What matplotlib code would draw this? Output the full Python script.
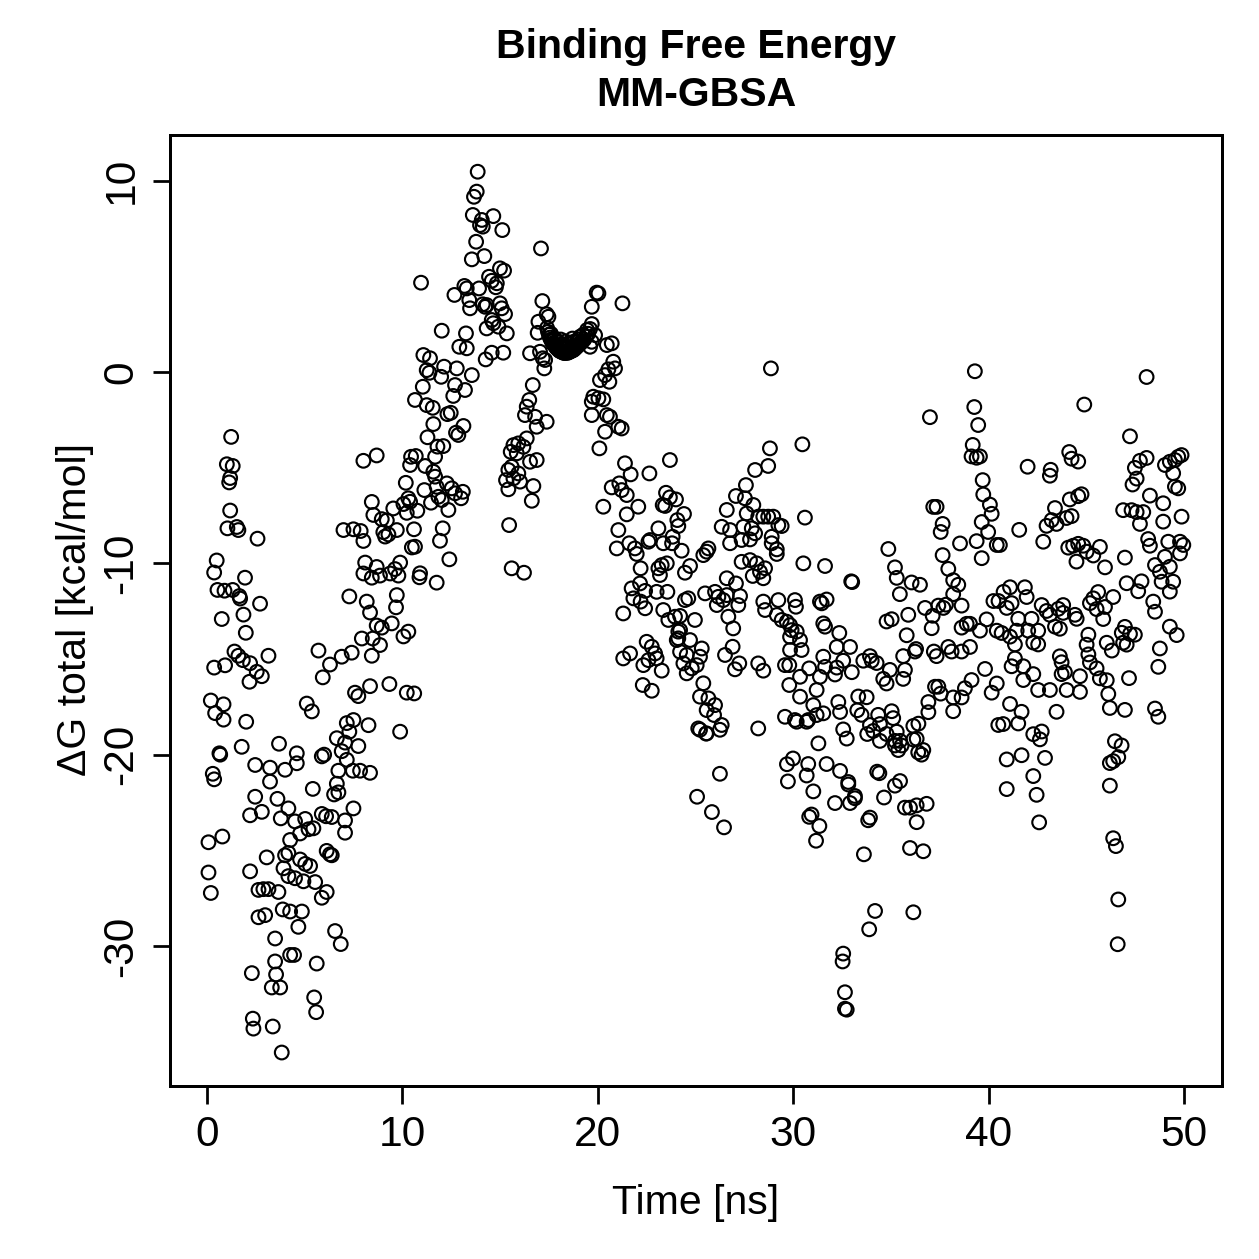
import numpy as np
import matplotlib
matplotlib.use("Agg")
import matplotlib.pyplot as plt

plt.rcParams['font.family'] = ['Liberation Sans', 'DejaVu Sans']
plt.rcParams['axes.unicode_minus'] = False

# (time [ns], dG total [kcal/mol]), grouped by time span
pts_0_10 = [
    (1.23, -3.39), (1.01, -4.82), (1.31, -4.91), (1.18, -5.54), (1.13, -5.77), (1.18, -7.24),
    (1.04, -8.17), (1.52, -8.10), (1.60, -8.26), (2.58, -8.71), (0.49, -9.85), (0.36, -10.48),
    (1.94, -10.75), (0.53, -11.39), (0.89, -11.43), (1.31, -11.39), (1.65, -11.71), (1.69, -11.84),
    (2.71, -12.11), (0.75, -12.91), (1.86, -12.68), (1.98, -13.63), (1.40, -14.61), (1.60, -14.83),
    (1.83, -15.06), (2.20, -15.22), (0.36, -15.45), (0.92, -15.33), (3.14, -14.83), (2.54, -15.67),
    (2.80, -15.90), (2.17, -16.19), (0.19, -17.17), (0.84, -17.37), (0.41, -17.83), (0.84, -18.17),
    (2.00, -18.28), (1.77, -19.59), (0.63, -19.93), (0.67, -20.00), (0.29, -21.00), (0.36, -21.29),
    (3.68, -19.43), (2.46, -20.54), (3.22, -20.68), (3.99, -20.79), (4.59, -19.93), (4.59, -20.45),
    (3.22, -21.41), (2.46, -22.20), (2.80, -22.99), (2.20, -23.17), (3.60, -22.31), (4.16, -22.81),
    (3.77, -23.33), (4.50, -23.49), (5.02, -23.36), (5.19, -23.90), (5.44, -23.85), (4.76, -24.12),
    (4.25, -24.46), (0.07, -24.58), (0.78, -24.28), (3.05, -25.37), (4.76, -25.48), (5.02, -25.71),
    (5.27, -25.82), (3.99, -25.26), (4.16, -25.14), (0.07, -26.16), (0.19, -27.23), (2.20, -26.10),
    (3.91, -25.94), (4.16, -26.35), (4.50, -26.46), (4.93, -26.62), (5.53, -26.66), (2.63, -27.07),
    (2.88, -27.03), (3.14, -27.03), (3.65, -27.18), (5.87, -27.48), (6.12, -27.18), (2.63, -28.50),
    (2.97, -28.39), (3.87, -28.09), (4.25, -28.20), (4.85, -28.20), (4.67, -29.00), (3.48, -29.61),
    (4.25, -30.47), (4.45, -30.47), (3.48, -30.81), (5.61, -30.92), (2.29, -31.42), (3.53, -31.49),
    (3.31, -32.17), (3.74, -32.17), (5.48, -32.69), (5.58, -33.46), (2.34, -33.80), (2.37, -34.32),
    (3.36, -34.21), (3.82, -35.57),
    (6.98, -8.26), (7.49, -8.22), (7.86, -8.31), (8.00, -8.83), (8.00, -4.64), (8.68, -4.36),
    (8.43, -6.79), (8.51, -7.47), (8.94, -7.69), (9.20, -7.76), (9.53, -7.13), (10.05, -6.90),
    (10.22, -7.36), (9.02, -8.37), (9.11, -8.60), (9.28, -8.49), (9.71, -8.26), (8.09, -9.96),
    (8.00, -10.53), (8.43, -10.75), (8.68, -10.19), (8.85, -10.64), (9.37, -10.53), (9.62, -10.30),
    (9.88, -9.96), (9.79, -10.64), (7.28, -11.73), (8.17, -12.00), (8.34, -12.57), (8.68, -13.25),
    (8.94, -13.36), (9.45, -13.14), (9.71, -11.66), (9.67, -12.30), (8.48, -13.93), (8.85, -14.27),
    (8.43, -14.83), (7.92, -13.93), (5.70, -14.56), (6.29, -15.29), (6.89, -14.88), (7.40, -14.67),
    (5.92, -15.96), (5.10, -17.33), (5.36, -17.74), (7.57, -16.76), (7.74, -16.94), (8.34, -16.42),
    (9.33, -16.31), (10.22, -16.76), (10.05, -13.82), (9.88, -18.80), (7.15, -18.35), (7.49, -18.19),
    (7.28, -18.80), (8.26, -18.46), (6.64, -19.14), (7.06, -19.37), (6.89, -19.82), (7.74, -19.55),
    (7.15, -20.27), (5.99, -20.00), (5.87, -20.09), (6.72, -20.84), (7.46, -20.84), (7.83, -20.84),
    (8.34, -20.95), (5.41, -21.79), (6.64, -21.52), (6.72, -21.97), (6.50, -22.08), (7.49, -22.81),
    (7.06, -23.44), (7.06, -24.08), (5.87, -23.10), (6.09, -23.22), (6.38, -23.26), (6.12, -25.03),
    (6.29, -25.21), (6.38, -25.26), (6.55, -29.22), (6.84, -29.90),
]

pts_10_17 = [
    (13.85, 10.47), (13.80, 9.43), (13.66, 9.16), (13.60, 8.21), (14.06, 7.95), (13.97, 7.68),
    (14.11, 7.60), (14.65, 8.15), (15.11, 7.42), (13.77, 6.81), (13.55, 5.89), (14.19, 6.06),
    (17.09, 6.46), (14.99, 5.42), (15.20, 5.30), (14.43, 4.98), (14.57, 4.77), (14.83, 4.64),
    (14.78, 4.43), (10.95, 4.67), (13.17, 4.50), (13.29, 4.37), (12.66, 4.03), (13.92, 4.37),
    (13.42, 3.76), (13.46, 3.33), (14.11, 3.54), (14.23, 3.41), (14.31, 3.50), (14.99, 3.59),
    (15.08, 3.33), (15.25, 3.03), (14.57, 2.72), (14.65, 2.55), (14.31, 2.28), (14.91, 2.37),
    (15.34, 2.02), (12.01, 2.16), (13.25, 2.02), (12.91, 1.32), (13.29, 1.24), (14.57, 1.01),
    (14.26, 0.66), (15.16, 1.01), (11.07, 0.89), (11.41, 0.72), (11.24, 0.10), (11.38, -0.04),
    (12.13, 0.28), (12.78, 0.19), (11.98, -0.25), (13.55, -0.16), (12.69, -0.68), (13.20, -0.94),
    (12.60, -1.25), (11.04, -0.77), (10.64, -1.46), (11.24, -1.73), (11.55, -1.87), (12.30, -2.20),
    (12.47, -2.13), (11.58, -2.72), (12.74, -3.17), (12.86, -3.29), (13.12, -2.82), (11.28, -3.41),
    (11.79, -3.90), (12.09, -3.87), (11.67, -4.43), (10.44, -4.43), (10.68, -4.39), (10.39, -4.86),
    (11.16, -4.91), (11.58, -5.21), (11.67, -5.47), (12.27, -5.82), (12.52, -6.08), (12.69, -6.34),
    (13.09, -6.26), (13.00, -6.60), (10.17, -5.79), (11.12, -6.17), (11.46, -6.83), (12.35, -7.21),
    (11.75, -6.00), (11.84, -6.52), (12.01, -6.69), (10.30, -6.60), (10.39, -6.78), (10.76, -7.25),
    (10.59, -8.22), (12.06, -8.17), (11.92, -8.82), (12.40, -9.79), (11.75, -11.01), (10.64, -9.13),
    (10.48, -9.17), (10.90, -10.52), (10.87, -10.73), (10.30, -13.57), (10.60, -16.80),
    (17.16, 3.71), (17.38, 3.02), (17.47, 2.89), (16.96, 2.63), (16.92, 2.05), (16.53, 0.98),
    (17.04, 1.06), (17.18, 0.72), (17.30, 0.63), (17.26, 0.19), (16.67, -0.68), (16.49, -1.46),
    (16.36, -1.81), (16.27, -2.25), (16.79, -2.34), (17.38, -2.60), (16.87, -2.86), (15.68, -3.82),
    (15.93, -3.73), (15.54, -4.17), (15.85, -4.25), (16.36, -3.47), (16.19, -3.91), (15.59, -4.95),
    (15.42, -5.12), (15.93, -5.30), (16.53, -4.69), (16.87, -4.60), (15.68, -5.56), (15.30, -5.65),
    (16.02, -5.73), (15.42, -6.13), (16.70, -5.96), (16.62, -6.73), (15.46, -8.00), (15.59, -10.26),
    (16.22, -10.49),
]

# the dense bowl between 17.5 and 19.5 ns
pts_bowl = [
    (17.45, 2.10), (17.50, 1.95), (17.55, 1.80), (17.60, 1.70), (17.65, 1.60), (17.70, 1.50),
    (17.75, 1.45), (17.80, 1.40), (17.85, 1.30), (17.90, 1.25), (17.95, 1.20), (18.00, 1.15),
    (18.05, 1.10), (18.10, 1.10), (18.15, 1.05), (18.20, 1.05), (18.25, 1.00), (18.30, 1.00),
    (18.35, 1.00), (18.40, 1.05), (18.45, 1.00), (18.50, 1.05), (18.55, 1.05), (18.60, 1.10),
    (18.65, 1.10), (18.70, 1.15), (18.75, 1.15), (18.80, 1.20), (18.85, 1.25), (18.90, 1.30),
    (18.95, 1.35), (19.00, 1.40), (19.05, 1.45), (19.10, 1.50), (19.15, 1.55), (19.20, 1.60),
    (19.30, 1.70), (19.40, 1.85), (19.50, 2.00), (17.90, 1.60), (18.20, 1.40), (18.50, 1.50),
    (18.80, 1.60), (19.00, 1.70), (18.30, 1.30),
    (17.40, 2.30), (17.60, 2.00), (17.80, 1.75), (18.00, 1.55), (18.10, 1.70), (18.35, 1.60),
    (18.60, 1.45), (18.70, 1.75), (18.90, 1.55), (19.10, 1.85), (19.25, 1.95), (19.45, 2.20),
    (19.60, 2.25), (18.45, 1.25), (18.05, 1.35), (18.75, 1.35),
]

pts_19_32 = [
    (19.94, 4.15), (20.03, 4.11), (21.26, 3.59), (19.69, 3.41), (19.69, 2.51), (19.86, 1.93),
    (19.69, 1.58), (19.60, 1.32), (20.46, 1.41), (20.71, 1.50), (20.79, 0.54), (20.88, 0.19),
    (20.54, 0.14), (20.37, -0.16), (20.11, -0.42), (20.59, -0.51), (19.77, -1.29), (20.03, -1.37),
    (20.28, -1.43), (19.69, -1.55), (19.69, -2.25), (20.46, -2.25), (20.62, -2.34), (21.05, -2.86),
    (21.22, -2.95), (20.37, -3.12), (20.08, -3.99), (23.69, -4.60), (21.39, -4.77), (21.68, -5.35),
    (22.64, -5.30), (20.71, -6.03), (21.10, -5.82), (21.22, -6.17), (21.48, -6.43), (20.28, -7.04),
    (22.07, -7.04), (23.49, -6.31), (23.69, -6.55), (24.00, -6.66), (23.32, -6.95), (23.44, -7.00),
    (24.41, -7.42), (24.07, -7.74), (24.12, -8.05), (23.83, -8.61), (23.80, -8.95), (24.29, -9.34),
    (21.48, -7.44), (21.05, -8.26), (20.97, -9.22), (21.61, -8.95), (21.90, -9.22), (21.99, -9.51),
    (22.59, -8.87), (22.67, -8.78), (23.10, -8.17), (23.35, -8.95),
    (22.19, -10.26), (23.10, -10.26), (23.27, -10.09), (23.53, -10.00), (23.18, -10.61),
    (24.46, -10.49), (24.72, -10.14), (25.40, -9.57), (25.57, -9.39), (25.66, -9.22),
    (21.73, -11.31), (22.16, -11.05), (22.42, -11.44), (23.01, -11.49), (23.56, -11.49),
    (21.82, -11.83), (22.19, -12.00), (22.42, -12.35), (21.30, -12.62),
    (23.35, -12.44), (23.61, -12.96), (23.95, -12.79), (24.21, -12.75), (24.21, -13.49),
    (24.12, -13.92), (24.72, -14.01), (24.97, -12.96),
    (24.46, -11.92), (24.63, -11.83), (25.49, -11.57), (26.00, -11.49), (26.17, -11.75),
    (26.42, -11.92), (26.60, -11.66), (26.09, -12.18),
    (26.60, -10.78), (27.07, -11.05), (27.28, -11.71), (27.19, -12.18), (26.68, -12.79),
    (26.93, -13.40), (26.90, -14.36), (26.51, -14.79), (27.24, -15.23), (27.02, -15.54),
    (27.58, -5.91), (27.07, -6.48), (27.53, -6.60), (27.96, -6.95), (27.62, -7.39), (28.21, -7.56),
    (28.47, -7.56), (28.72, -7.56), (28.98, -7.56), (29.24, -8.00), (29.41, -8.05), (26.34, -8.09),
    (26.60, -7.21), (26.77, -8.26), (27.45, -8.09), (27.88, -8.17), (28.05, -8.43), (27.79, -8.75),
    (27.36, -8.78), (26.77, -8.95), (28.90, -8.61), (28.90, -8.95), (29.16, -9.27), (29.16, -9.51),
    (27.36, -9.92), (27.79, -9.83), (28.13, -10.00), (28.56, -10.26), (28.30, -10.44),
    (27.93, -10.66), (28.47, -10.78), (30.52, -10.00), (31.63, -10.14), (31.37, -12.00),
    (31.54, -13.14), (31.71, -11.89), (28.05, -5.12), (28.72, -4.91), (28.81, -3.99),
    (30.47, -3.78), (30.60, -7.61), (28.86, 0.19),
    (29.24, -11.92), (30.09, -11.92), (30.14, -12.27), (28.47, -12.00), (28.56, -12.44),
    (29.16, -12.70), (29.41, -12.96), (29.67, -13.05), (29.84, -13.23), (29.92, -13.49),
    (30.18, -13.57), (29.84, -13.84), (30.35, -14.01), (30.43, -14.53), (29.84, -14.53),
    (29.80, -15.32), (29.58, -15.32), (30.82, -15.49), (30.35, -15.93), (30.35, -16.97),
    (31.46, -12.09), (31.63, -13.31), (31.54, -14.88), (31.63, -15.41), (31.37, -15.93),
    (31.20, -16.62), (31.03, -17.41), (31.20, -17.93), (30.69, -18.28), (30.18, -18.28),
    (29.58, -18.02), (31.29, -19.41), (31.54, -17.84),
    (22.50, -14.10), (22.76, -14.36), (22.93, -14.71), (23.01, -14.97), (22.59, -15.06),
    (22.33, -15.32), (23.27, -15.61), (21.65, -14.71), (21.30, -14.97), (22.30, -16.36),
    (22.76, -16.66),
    (24.12, -13.57), (24.04, -14.01), (24.21, -14.62), (24.55, -14.79), (24.38, -15.23),
    (24.55, -15.75), (24.81, -15.49), (25.06, -15.32), (25.32, -14.45), (25.23, -14.88),
    (25.40, -16.27), (25.23, -16.97), (25.66, -17.06), (25.57, -17.67), (26.00, -17.41),
    (25.95, -17.93), (25.14, -18.63), (25.57, -18.89), (26.34, -18.45), (28.21, -18.63),
    (28.21, -15.23), (28.47, -15.61), (29.80, -16.36), (30.09, -18.19), (30.77, -18.19),
    (26.25, -21.00), (25.08, -22.20), (25.84, -23.00), (26.46, -23.80), (29.68, -20.50),
    (29.99, -20.20), (29.73, -21.40), (25.23, -18.70), (25.54, -18.90), (26.25, -18.70),
]

pts_30_41 = [
    (39.30, 0.04), (39.27, -1.83), (39.47, -2.77), (37.00, -2.36), (39.19, -3.81), (39.13, -4.41),
    (39.39, -4.48), (39.56, -4.41), (39.70, -5.65), (39.73, -6.40),
    (40.07, -6.93), (40.16, -7.41), (39.65, -7.84), (39.98, -8.36), (39.39, -8.84), (40.42, -9.04),
    (40.58, -9.04), (39.65, -9.73),
    (37.17, -7.05), (37.34, -7.05), (37.65, -7.94), (37.55, -8.36), (38.54, -8.96), (37.65, -9.57),
    (37.94, -10.29), (38.19, -10.88), (38.45, -11.12),
    (34.87, -9.25), (35.21, -10.21), (35.30, -10.76), (35.46, -11.61), (36.06, -11.00), (36.49, -11.12),
    (35.89, -12.69), (35.81, -13.76), (34.78, -13.04), (35.04, -12.92), (35.63, -14.85),
    (35.72, -15.57), (36.23, -14.61), (36.29, -14.48),
    (36.75, -12.33), (37.14, -12.74), (37.43, -12.21), (37.69, -12.33), (37.82, -12.16),
    (38.19, -11.61), (38.62, -12.21), (39.05, -13.16), (38.88, -13.16), (38.62, -13.36),
    (39.56, -13.52), (39.90, -12.93), (40.42, -13.52), (40.67, -13.64), (40.25, -11.97),
    (40.51, -11.97), (40.77, -11.49), (40.93, -12.33),
    (37.09, -13.39), (37.20, -14.61), (37.34, -14.85), (37.94, -14.37), (38.11, -14.61),
    (38.62, -14.61), (39.05, -14.37), (39.13, -16.10), (38.79, -16.53), (38.62, -17.01),
    (38.19, -17.01), (38.19, -17.73), (37.55, -16.81), (37.43, -16.45), (37.26, -16.45),
    (36.92, -17.25), (36.92, -17.78), (36.15, -18.50), (36.41, -18.38),
    (39.82, -15.52), (40.42, -16.28), (40.50, -18.45), (40.16, -16.76), (40.75, -18.40),
    (40.93, -20.25), (40.93, -21.80),
    (33.33, -16.96), (33.76, -17.00), (33.28, -17.68), (33.50, -17.92), (33.93, -18.45),
    (34.10, -18.76), (33.79, -18.92), (34.35, -17.92), (34.44, -18.40), (35.04, -17.73),
    (35.12, -18.09), (35.30, -18.80), (35.55, -19.52), (35.21, -19.52), (35.38, -19.76),
    (34.44, -19.28), (34.78, -18.92), (35.21, -19.28), (35.47, -19.28), (36.15, -19.21),
    (36.32, -19.17), (36.40, -19.88), (36.57, -20.00), (36.66, -19.76),
    (35.47, -21.38), (35.21, -21.62), (34.65, -22.24), (34.30, -20.89), (34.41, -20.97),
    (35.72, -22.77), (35.98, -22.77), (36.32, -22.65), (36.83, -22.57), (36.32, -23.53),
    (35.98, -24.88), (36.66, -25.05), (34.19, -28.17), (36.15, -28.24), (33.89, -29.13),
    (32.56, -30.40), (32.53, -30.81), (32.65, -32.42), (32.65, -33.28), (32.74, -33.33),
    (30.77, -20.49), (30.69, -21.09), (31.03, -21.92), (30.82, -23.25), (30.94, -23.13),
    (31.34, -23.73), (31.17, -24.50),
    (31.71, -20.49), (32.40, -20.85), (32.82, -21.56), (33.16, -22.28), (32.82, -21.43),
    (32.14, -22.53), (33.16, -22.16), (32.91, -22.53), (33.62, -25.21), (33.93, -23.29),
    (33.84, -23.43),
    (32.97, -10.94), (33.02, -10.98), (32.36, -13.64), (32.23, -14.37), (32.91, -14.37),
    (32.56, -15.09), (32.23, -15.45), (32.14, -15.81), (33.00, -15.69), (33.59, -15.09),
    (34.02, -15.09), (33.93, -14.85), (34.27, -15.21), (34.61, -16.04), (34.78, -16.28),
    (34.95, -15.57), (35.63, -16.04), (32.31, -17.25), (32.40, -17.77), (32.56, -18.68),
    (32.74, -19.16),
]

pts_41_50 = [
    (48.09, -0.26), (44.90, -1.70), (47.24, -3.36), (42.00, -4.95), (44.13, -4.18), (44.25, -4.53),
    (44.59, -4.68), (43.18, -5.11), (43.14, -5.42), (47.49, -5.01), (47.75, -4.64), (48.09, -4.49),
    (47.37, -5.88), (47.58, -5.57), (48.26, -6.46), (47.92, -7.32), (47.32, -7.22), (47.58, -7.32),
    (47.75, -7.94), (48.17, -8.73), (48.26, -9.08),
    (46.89, -7.22), (46.98, -9.70), (47.07, -11.04), (47.83, -10.94), (47.66, -11.46), (47.19, -16.00),
    (45.19, -12.08), (45.36, -11.83), (45.61, -11.50), (46.38, -11.76), (45.87, -12.91),
    (45.53, -12.39), (45.96, -12.28), (45.11, -13.73), (46.05, -14.15), (46.31, -14.56),
    (46.82, -13.63), (46.98, -13.32), (47.24, -13.69), (47.49, -13.73), (47.07, -14.25),
    (46.89, -14.15), (45.02, -14.25), (45.11, -14.76), (45.19, -15.18), (45.53, -15.49),
    (45.70, -16.01), (46.05, -16.11), (46.13, -16.83), (46.21, -17.56), (46.98, -17.66),
    (44.08, -9.18), (44.33, -9.08), (44.59, -8.98), (44.85, -9.08), (45.02, -9.39), (45.36, -9.59),
    (44.50, -9.91), (45.70, -9.14), (45.96, -10.21),
    (42.80, -8.87), (43.40, -7.11), (43.23, -7.74), (43.48, -7.94), (42.97, -8.04), (43.99, -7.63),
    (44.25, -7.53), (44.59, -6.49), (44.76, -6.39), (44.16, -6.66), (41.57, -8.25),
    (41.10, -11.25), (41.86, -11.25), (41.95, -11.76), (41.18, -12.08), (41.52, -12.90),
    (42.20, -12.90), (42.72, -12.18), (42.97, -12.49), (43.14, -12.69), (43.57, -12.38),
    (43.82, -12.18), (43.82, -12.59), (44.42, -12.69), (44.51, -12.90), (43.40, -13.31),
    (43.65, -13.42), (42.54, -13.52), (42.03, -13.52), (41.44, -13.52), (41.10, -13.83),
    (41.35, -14.24), (42.29, -14.14), (42.54, -14.24), (43.65, -14.86), (43.74, -15.17),
    (43.74, -15.79), (43.91, -15.69), (44.68, -15.90), (44.00, -16.62), (44.68, -16.72),
    (43.14, -16.62), (42.54, -16.62), (42.29, -15.79), (41.78, -16.10), (41.78, -15.38),
    (41.35, -14.97), (41.18, -15.38), (41.10, -17.35), (41.69, -17.76), (43.48, -17.76),
    (41.52, -18.37), (42.29, -18.93), (42.72, -18.79), (42.63, -19.20), (42.89, -20.17),
    (41.69, -20.03), (42.29, -21.12), (42.46, -22.10), (42.59, -23.54),
    (46.47, -19.30), (46.81, -19.52), (46.38, -20.34), (46.64, -20.13), (46.21, -20.44),
    (46.21, -21.62), (46.38, -24.37), (46.52, -24.78), (46.64, -27.57), (46.61, -29.91),
    (49.88, -4.34), (49.71, -4.43), (49.54, -4.60), (49.28, -4.69), (49.03, -4.86), (49.45, -5.29),
    (49.54, -5.99), (49.71, -6.08), (48.94, -6.86), (49.88, -7.56), (48.94, -7.82), (49.20, -8.87),
    (49.80, -8.87), (49.97, -9.04), (49.80, -9.48), (49.03, -9.66), (49.28, -10.18), (48.77, -10.44),
    (48.52, -10.09), (49.45, -10.96), (48.86, -10.96), (49.28, -11.48), (48.43, -12.00),
    (48.52, -12.53), (49.28, -13.31), (49.63, -13.75), (48.77, -14.45), (48.69, -15.41),
    (48.52, -17.59), (48.69, -18.02),
]

segments = [pts_0_10, pts_10_17, pts_bowl, pts_19_32, pts_30_41, pts_41_50]
data = np.array([p for seg in segments for p in seg])
time_ns = data[:, 0]
dg_total = data[:, 1]

fig = plt.figure(figsize=(1259 / 180, 1259 / 180), dpi=180)
ax = fig.add_axes([170 / 1259, 1 - 1086 / 1259, (1222 - 170) / 1259, (1086 - 135) / 1259])

ax.scatter(time_ns, dg_total, s=30, facecolors='none', edgecolors='black', linewidths=0.85)

ax.set_xlim(-1.9, 51.95)
ax.set_ylim(-37.32, 12.39)
ax.set_xticks([0, 10, 20, 30, 40, 50])
ax.set_yticks([-30, -20, -10, 0, 10])
ax.tick_params(direction='out', length=7, width=1.1, labelsize=17, pad=4.5)
for lab in ax.get_yticklabels():
    lab.set_rotation(90)
    lab.set_va('center')
for sp in ax.spines.values():
    sp.set_linewidth(1.2)

fig.text(696 / 1259, 1 - 47 / 1259, 'Binding Free Energy', ha='center', va='center',
         fontsize=16.4, fontweight='bold')
fig.text(696 / 1259, 1 - 95 / 1259, 'MM-GBSA', ha='center', va='center',
         fontsize=16.4, fontweight='bold')
fig.text(696 / 1259, 1 - 1203 / 1259, 'Time [ns]', ha='center', va='center', fontsize=16.4)
fig.text(75 / 1259, 1 - 610 / 1259, 'ΔG total [kcal/mol]', ha='center', va='center',
         rotation=90, fontsize=16.4)

fig.savefig('out.png', dpi=180)
